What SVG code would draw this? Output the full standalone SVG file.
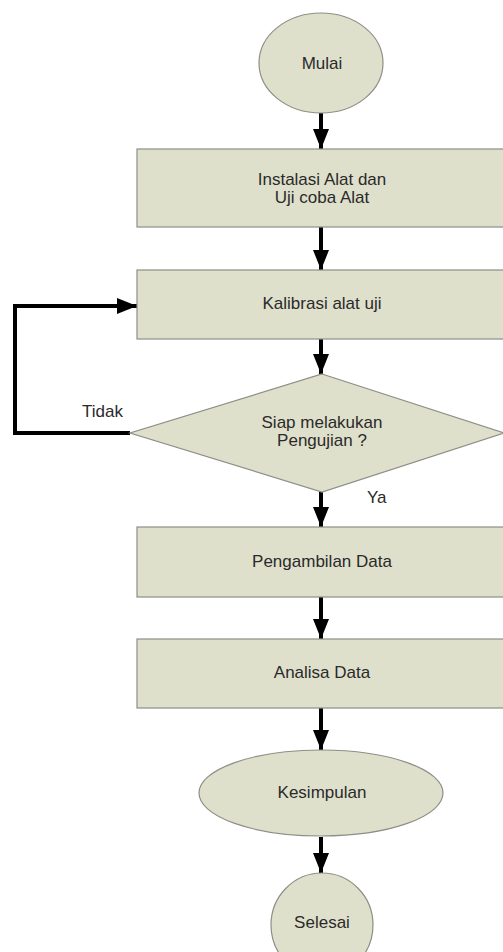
<svg xmlns="http://www.w3.org/2000/svg" width="503" height="952" viewBox="0 0 503 952">
<style>
.n{fill:#dfe0cc;stroke:#8e8e86;stroke-width:1.2}
.t{font-family:"Liberation Sans",Arial,sans-serif;font-size:17px;fill:#2a2a2a;text-anchor:middle}
.l{font-family:"Liberation Sans",Arial,sans-serif;font-size:17px;fill:#2a2a2a}
.c{fill:none;stroke:#000;stroke-width:4;stroke-linejoin:miter}
</style>
<defs>
<marker id="ah" markerUnits="userSpaceOnUse" markerWidth="20" markerHeight="16" refX="20" refY="8" orient="auto">
<path d="M0,0 L20,8 L0,16 Z" fill="#000"/>
</marker>
</defs>
<rect width="503" height="952" fill="#fff"/>
<g id="connectors">
<line class="c" x1="321" y1="113" x2="321" y2="149" marker-end="url(#ah)"/>
<line class="c" x1="321" y1="227" x2="321" y2="270" marker-end="url(#ah)"/>
<line class="c" x1="321" y1="339" x2="321" y2="374" marker-end="url(#ah)"/>
<path class="c" d="M130,433 H15 V306 H137" marker-end="url(#ah)"/>
<line class="c" x1="321" y1="492" x2="321" y2="527" marker-end="url(#ah)"/>
<line class="c" x1="321" y1="597" x2="321" y2="639" marker-end="url(#ah)"/>
<line class="c" x1="321" y1="708" x2="321" y2="750" marker-end="url(#ah)"/>
<line class="c" x1="321" y1="837" x2="321" y2="873" marker-end="url(#ah)"/>
<text class="l" x="82" y="417">Tidak</text>
<text class="l" x="367" y="503">Ya</text>
</g>
<g id="mulai">
<ellipse class="n" cx="321" cy="63" rx="62" ry="50"/>
<text class="t" x="322" y="69">Mulai</text>
</g>
<g id="instalasi">
<rect class="n" x="137" y="149" width="380" height="78"/>
<text class="t" x="322" y="185">Instalasi Alat dan</text>
<text class="t" x="322" y="203">Uji coba Alat</text>
</g>
<g id="kalibrasi">
<rect class="n" x="137" y="270" width="380" height="69"/>
<text class="t" x="322" y="309">Kalibrasi alat uji</text>
</g>
<g id="siap">
<polygon class="n" points="322,374 504,433 322,492 130,433"/>
<text class="t" x="322" y="428">Siap melakukan</text>
<text class="t" x="322" y="446">Pengujian ?</text>
</g>
<g id="pengambilan">
<rect class="n" x="137" y="527" width="380" height="70"/>
<text class="t" x="322" y="567">Pengambilan Data</text>
</g>
<g id="analisa">
<rect class="n" x="137" y="639" width="380" height="69"/>
<text class="t" x="322" y="678">Analisa Data</text>
</g>
<g id="kesimpulan">
<ellipse class="n" cx="321" cy="793" rx="122" ry="43"/>
<text class="t" x="322" y="798">Kesimpulan</text>
</g>
<g id="selesai">
<ellipse class="n" cx="322" cy="925" rx="51" ry="52"/>
<text class="t" x="322" y="928">Selesai</text>
</g>
</svg>
